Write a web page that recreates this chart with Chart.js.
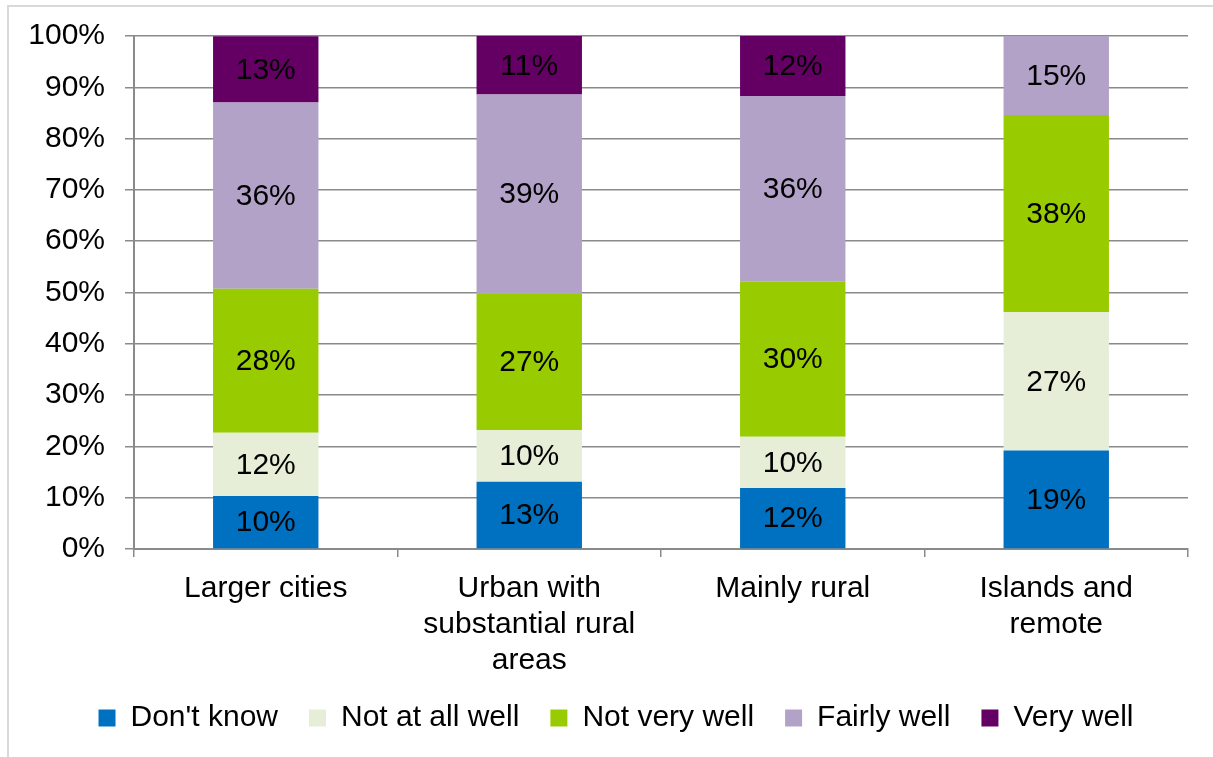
<!DOCTYPE html>
<html>
<head>
<meta charset="utf-8">
<script src="https://cdn.jsdelivr.net/npm/chart.js@4"></script>
<style>
    html, body { margin: 0; padding: 0; background: #fff; }
    #wrap { position: relative; width: 1213px; height: 757px; }
</style>
</head>
<body>
<div id="wrap"><canvas id="chart"></canvas></div>
<script>
// Areas and answer shares (percent of respondents)
const categories = [
    'Larger cities',
    ['Urban with', 'substantial rural', 'areas'],
    'Mainly rural',
    ['Islands and', 'remote']
];
const dontKnow    = [10.35, 13.1, 11.9, 19.2];
const notAtAll    = [12.3, 10.1, 10.0, 27.0];
const notVery     = [28.1, 26.6, 30.2, 38.4];
const fairlyWell  = [36.3, 38.8, 36.2, 15.4];
const veryWell    = [12.9, 11.4, 11.7, 0];
const yTicks = [0, 10, 20, 30, 40, 50, 60, 70, 80, 90, 100];

const FONT = '"Liberation Sans", Arial, sans-serif';
const FONT_SIZE = 30;
const GRID = '#8a8a8a';

// Draws the rounded value inside each segment
const segmentLabels = {
    id: 'segmentLabels',
    afterDatasetsDraw(chart) {
        const ctx = chart.ctx;
        ctx.save();
        ctx.font = FONT_SIZE + 'px ' + FONT;
        ctx.fillStyle = '#000';
        ctx.textAlign = 'center';
        ctx.textBaseline = 'middle';
        chart.data.datasets.forEach((ds, i) => {
            const meta = chart.getDatasetMeta(i);
            meta.data.forEach((bar, j) => {
                const v = ds.data[j];
                if (!v) return;
                const props = bar.getProps(['x', 'y', 'base'], true);
                ctx.fillText(Math.round(v) + '%', props.x, (props.y + props.base) / 2 + 1);
            });
        });
        ctx.restore();
    }
};

// Light frame round the whole chart, legend nudged right like the original
const frame = {
    id: 'frame',
    afterLayout(chart) {
        if (chart.legend) {
            chart.legend.left += 22;
            chart.legend.right += 22;
        }
    },
    beforeDraw(chart) {
        const ctx = chart.ctx;
        ctx.save();
        ctx.strokeStyle = '#d9d9d9';
        ctx.lineWidth = 2;
        ctx.strokeRect(8, 6, chart.width + 20, chart.height + 20);
        ctx.restore();
    }
};

function series(label, data, color) {
    return {
        label,
        data,
        backgroundColor: color,
        borderWidth: 0,
        barPercentage: 0.8,
        categoryPercentage: 0.5
    };
}

new Chart(document.getElementById('chart'), {
    type: 'bar',
    data: {
        labels: categories,
        datasets: [
            series("Don't know", dontKnow, '#0070c0'),
            series('Not at all well', notAtAll, '#e6eed7'),
            series('Not very well', notVery, '#99cc00'),
            series('Fairly well', fairlyWell, '#b2a2c8'),
            series('Very well', veryWell, '#640064')
        ]
    },
    options: {
        responsive: true,
        maintainAspectRatio: false,
        animation: false,
        layout: {
            padding: { top: 36, right: 25, bottom: 14, left: 0 }
        },
        plugins: {
            legend: {
                position: 'bottom',
                labels: {
                    font: { family: FONT, size: FONT_SIZE },
                    color: '#000',
                    boxWidth: 17,
                    boxHeight: 17,
                    padding: 31
                }
            },
            tooltip: { enabled: false }
        },
        scales: {
            x: {
                stacked: true,
                grid: {
                    offset: true,
                    drawOnChartArea: false,
                    color: GRID,
                    lineWidth: 1.5,
                    tickLength: 8
                },
                border: { color: GRID, width: 2 },
                ticks: {
                    color: '#000',
                    font: { family: FONT, size: FONT_SIZE, lineHeight: 1.19 },
                    padding: 14,
                    maxRotation: 0
                },
                afterFit(scale) { scale.height = 123; }
            },
            y: {
                stacked: true,
                min: 0,
                max: 100,
                afterBuildTicks(scale) {
                    scale.ticks = yTicks.map(v => ({ value: v }));
                },
                grid: {
                    color: GRID,
                    lineWidth: 1.5,
                    tickLength: 9
                },
                border: { color: GRID, width: 2 },
                ticks: {
                    color: '#000',
                    font: { family: FONT, size: FONT_SIZE },
                    padding: 20,
                    callback: v => v + '%'
                },
                afterFit(scale) {
                    scale.width = 134;
                    scale.paddingTop = 0;
                    scale.paddingBottom = 0;
                }
            }
        }
    },
    plugins: [frame, segmentLabels]
});
</script>
</body>
</html>
